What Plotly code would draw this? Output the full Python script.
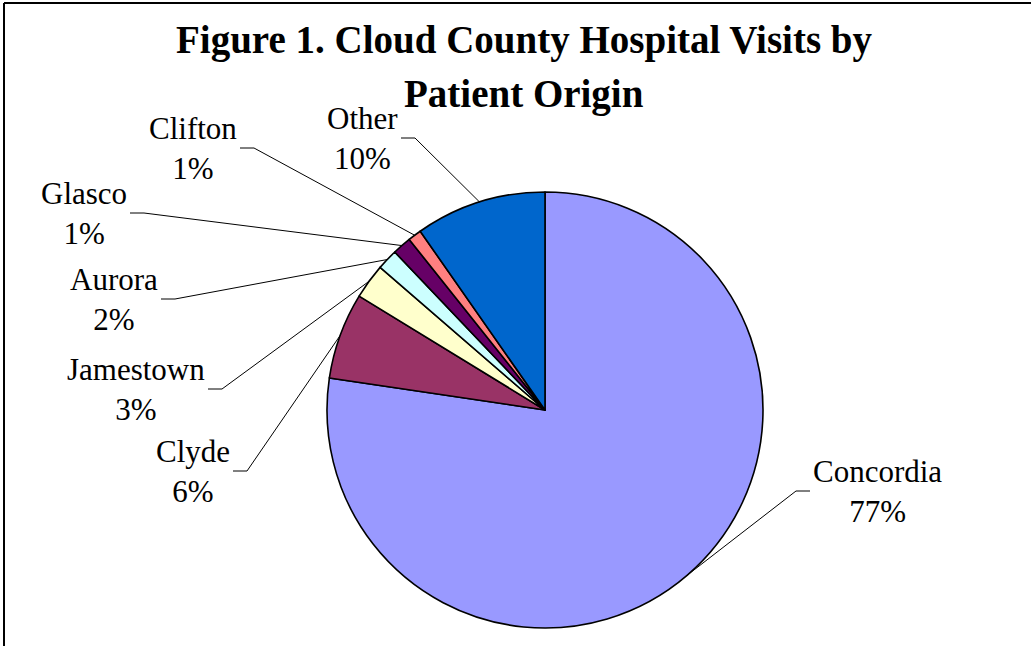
import math
import plotly.graph_objects as go

# ---- data ----
regions = ["Concordia", "Clyde", "Jamestown", "Aurora", "Glasco", "Clifton", "Other"]
visit_share = [77.35, 6.4, 2.6, 1.55, 1.4, 1.0, 9.7]
slice_colors = ["#9999FF", "#993366", "#FFFFCC", "#CCFFFF", "#660066", "#FF8080", "#0066CC"]
title_lines = ["Figure 1. Cloud County Hospital Visits by", "Patient Origin"]

# ---- layout (pixels) ----
W, H = 1031, 646
CX, CY, R = 545, 410, 218
# leader attach point next to each label, and which side of the pie the label sits on
label_anchor = {
    "Concordia": (810, 491, "right"),
    "Clyde": (233, 471, "left"),
    "Jamestown": (208, 389, "left"),
    "Aurora": (161, 299, "left"),
    "Glasco": (130, 213, "left"),
    "Clifton": (240, 148, "left"),
    "Other": (401, 138, "left"),
}
FONT = "Liberation Serif, Times New Roman, serif"


def px(x):
    return x / W


def py(y):
    return 1 - y / H


fig = go.Figure(
    go.Pie(
        labels=regions,
        values=visit_share,
        sort=False,
        direction="clockwise",
        rotation=0,
        marker=dict(colors=slice_colors, line=dict(color="black", width=1.6)),
        textinfo="none",
        hoverinfo="label+percent",
        showlegend=False,
        domain=dict(x=[px(CX - R), px(CX + R)], y=[py(CY + R), py(CY - R)]),
    )
)

shapes = []
annotations = []
total = sum(visit_share)
cum = 0.0
for name, v in zip(regions, visit_share):
    mid = (cum + v / 2) / total * 2 * math.pi
    cum += v
    ex = CX + R * math.sin(mid)
    ey = CY - R * math.cos(mid)
    pct = round(v / total * 100)
    ax, ay, side = label_anchor[name]
    hx = ax + 14 if side == "left" else ax - 14
    shapes.append(dict(
        type="path", xref="paper", yref="paper",
        path=f"M {px(ex)},{py(ey)} L {px(hx)},{py(ay)} L {px(ax)},{py(ay)}",
        line=dict(color="black", width=1),
    ))
    annotations.append(dict(
        text=f"{name}<br>{pct}%",
        x=px(ax - 1) if side == "left" else px(ax + 1),
        xanchor="right" if side == "left" else "left",
        y=py(ay), yanchor="middle",
        xref="paper", yref="paper", align="center", showarrow=False,
        font=dict(family=FONT, size=31, color="black"),
    ))

# title (two lines, Excel-style wide line spacing)
for txt, cy in zip(title_lines, [39.7, 93.7]):
    annotations.append(dict(
        text=f"<b>{txt}</b>", x=px(524), xanchor="center", y=py(cy), yanchor="middle",
        xref="paper", yref="paper", showarrow=False,
        font=dict(family=FONT, size=39, color="black"),
    ))

# chart frame (top and left edges visible)
shapes.append(dict(type="line", xref="paper", yref="paper",
                   x0=px(4), y0=py(3), x1=px(W + 5), y1=py(3),
                   line=dict(color="black", width=2)))
shapes.append(dict(type="line", xref="paper", yref="paper",
                   x0=px(4), y0=py(3), x1=px(4), y1=py(H + 5),
                   line=dict(color="black", width=2)))

fig.update_layout(
    width=W, height=H, autosize=False,
    margin=dict(l=0, r=0, t=0, b=0),
    paper_bgcolor="white", plot_bgcolor="white",
    shapes=shapes, annotations=annotations,
    font=dict(family=FONT),
)

fig.write_html(
    "out.html",
    config={"displayModeBar": False},
    post_script="document.body.style.margin='0';document.body.style.padding='0';",
)
